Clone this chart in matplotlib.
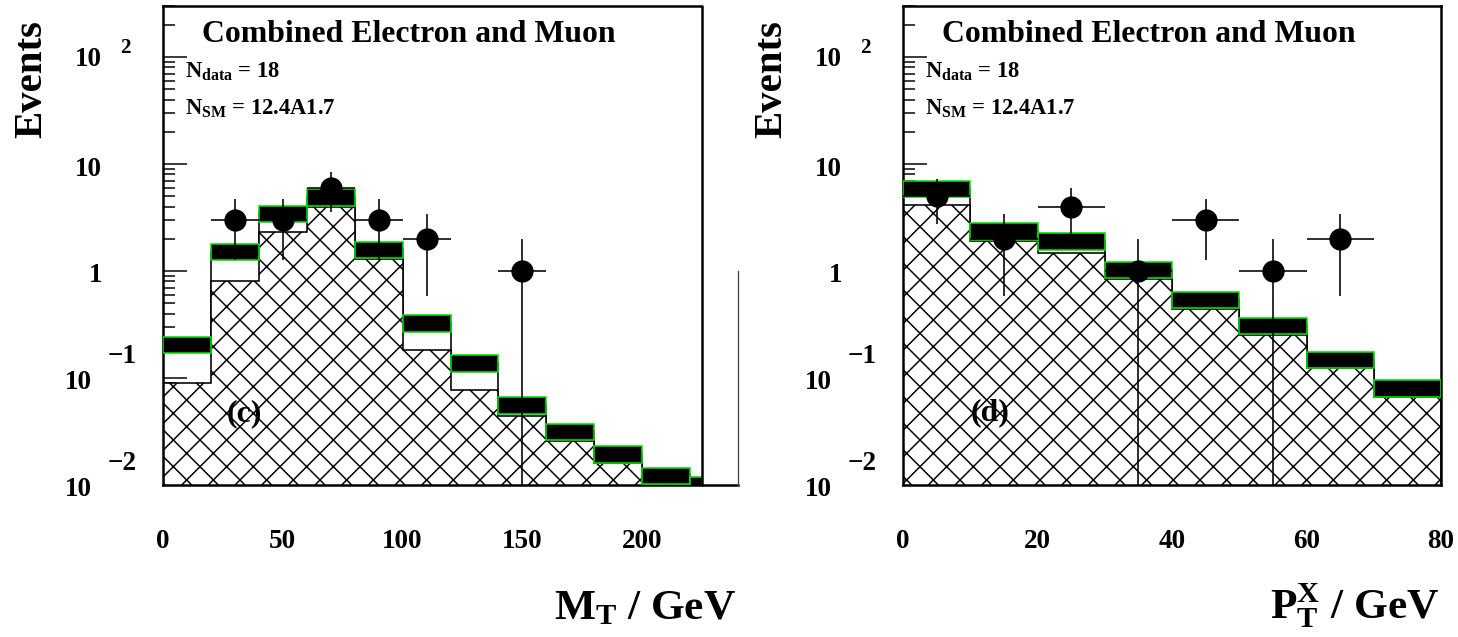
import numpy as np
import matplotlib
matplotlib.use("Agg")
import matplotlib.pyplot as plt
from matplotlib.transforms import ScaledTranslation
from matplotlib.ticker import FixedLocator, LogLocator, NullFormatter

DPI = 160

# M_T distribution, 20 GeV bins (the last one is cut by the frame at 225)
mt_edges = [0, 20, 40, 60, 80, 100, 120, 140, 160, 180, 200, 220, 225]
mt_sm = [0.206, 1.53, 3.46, 4.95, 1.60, 0.328, 0.139, 0.056, 0.032, 0.0196, 0.0123, 0.0102]
mt_sm_err = [0.035, 0.26, 0.59, 0.90, 0.28, 0.060, 0.025, 0.010, 0.0054, 0.0035, 0.0021, 0.0017]
mt_main_bkg = [0.090, 0.81, 2.31, 4.0, 1.3, 0.183, 0.077, 0.044, 0.026, 0.016, 0.009, 0.008]
mt_data_x = [30, 50, 70, 90, 110, 150]
mt_data_n = [3, 3, 6, 3, 2, 1]

# P_T^X distribution, 10 GeV bins
ptx_edges = [0, 10, 20, 30, 40, 50, 60, 70, 80]
ptx_sm = [5.93, 2.38, 1.92, 1.04, 0.544, 0.311, 0.150, 0.081]
ptx_sm_err = [1.0, 0.43, 0.35, 0.18, 0.093, 0.053, 0.026, 0.015]
ptx_main_bkg = [4.14, 1.9, 1.47, 0.85, 0.44, 0.255, 0.123, 0.066]
ptx_data_x = [5, 15, 25, 35, 45, 55, 65]
ptx_data_n = [5, 2, 4, 1, 3, 1, 2]

n_data = 18
n_sm_text = "12.4A1.7"


def px(v):
    # pixel size -> points at the figure dpi
    return v * 72.0 / DPI


plt.rcParams['font.family'] = ['Liberation Serif', 'DejaVu Serif']
plt.rcParams['font.weight'] = 'bold'
plt.rcParams['mathtext.fontset'] = 'custom'
plt.rcParams['mathtext.rm'] = 'Liberation Serif:bold'
plt.rcParams['mathtext.it'] = 'Liberation Serif:bold'
plt.rcParams['mathtext.bf'] = 'Liberation Serif:bold'
plt.rcParams['hatch.linewidth'] = px(1.5)

fig = plt.figure(figsize=(1458 / DPI, 637 / DPI), dpi=DPI)
fig.patch.set_facecolor('white')


def shift(dx, dy):
    return ScaledTranslation(dx / DPI, dy / DPI, fig.dpi_scale_trans)


def draw_hist(ax, edges, sm, sm_err, main_bkg, data_x, data_n):
    edges = np.asarray(edges, float)
    sm = np.asarray(sm)
    sm_err = np.asarray(sm_err)
    # total SM (white part on top) and the dominant background (cross-hatched)
    ax.stairs(sm, edges, baseline=1e-6, fill=True, facecolor='white',
              edgecolor='black', lw=px(1.6), zorder=1)
    ax.stairs(main_bkg, edges, baseline=1e-6, fill=True, facecolor='white',
              edgecolor='black', hatch='xx', lw=px(1.6), zorder=2)
    # SM uncertainty band
    widths = np.diff(edges)
    ax.bar(edges[:-1], 2 * sm_err, width=widths, bottom=sm - sm_err, align='edge',
           color='black', edgecolor='#00e000', lw=px(1.6), zorder=3)
    # data with sqrt(N) errors
    n = np.asarray(data_n, float)
    err = np.sqrt(n)
    lo = np.minimum(err, n - 1e-5)
    half = np.interp(data_x, edges[:-1] + widths / 2, widths / 2)
    ax.errorbar(data_x, n, yerr=[lo, err], xerr=half, fmt='o', color='black',
                ms=px(20), elinewidth=px(1.6), capsize=0, zorder=4)


def style_axes(ax, major_x, minor_x):
    ax.set_yscale('log')
    ax.set_ylim(0.01, 300)
    ax.yaxis.set_major_locator(LogLocator(base=10, numticks=10))
    ax.yaxis.set_minor_locator(LogLocator(base=10, subs=range(2, 10), numticks=10))
    ax.xaxis.set_major_locator(FixedLocator(major_x))
    ax.xaxis.set_minor_locator(FixedLocator(minor_x))
    for axis in (ax.xaxis, ax.yaxis):
        axis.set_major_formatter(NullFormatter())
        axis.set_minor_formatter(NullFormatter())
    ax.tick_params(which='both', direction='in', width=px(1.5), color='black',
                   top=False, right=False)
    ax.tick_params(which='major', length=px(24))
    ax.tick_params(which='minor', length=px(12))
    for sp in ax.spines.values():
        sp.set_linewidth(px(2.5))

    # ROOT style exponent labels
    tr = ax.get_yaxis_transform()
    kw = dict(fontsize=12.2, va='center_baseline')
    ax.text(0, 100, '10', transform=tr + shift(-61, 1), ha='right', **kw)
    ax.text(0, 100, '2', transform=tr + shift(-43, 12), ha='left',
            fontsize=9.5, va='center_baseline')
    ax.text(0, 10, '10', transform=tr + shift(-61, -2), ha='right', **kw)
    ax.text(0, 1, '1', transform=tr + shift(-61, -1), ha='right', **kw)
    for v, e in ((0.1, '\u22121'), (0.01, '\u22122')):
        ax.text(0, v, '10', transform=tr + shift(-71, -1), ha='right', **kw)
        ax.text(0, v, e, transform=tr + shift(-55, 25), ha='left', **kw)

    ax.text(0, 1, 'Events', transform=ax.transAxes + shift(-131, -73),
            rotation=90, ha='center', va='center', fontsize=18.4)
    ax.text(0, 1, 'Combined Electron and Muon', transform=ax.transAxes + shift(39, -36),
            ha='left', va='baseline', fontsize=14.3)
    ax.text(0, 1, r'$\mathrm{N_{data}}$ = %d' % n_data, transform=ax.transAxes + shift(22, -72),
            ha='left', va='baseline', fontsize=10.2)
    ax.text(0, 1, r'$\mathrm{N_{SM}}$ = ' + n_sm_text, transform=ax.transAxes + shift(22, -109),
            ha='left', va='baseline', fontsize=10.2)


def x_labels(ax, values):
    tr = ax.get_xaxis_transform()
    for v in values:
        ax.text(v, 0, str(v), transform=tr + shift(0, -54), ha='center',
                va='center_baseline', fontsize=12.2)


def x_title(ax, s):
    ax.text(1, 0, s, transform=ax.transAxes + shift(-2, -134),
            ha='right', va='baseline', fontsize=19.5)


# left panel: M_T
ax1 = fig.add_axes([163 / 1458, 152 / 637, 575 / 1458, 479 / 637])
ax1.set_xlim(0, 240)
draw_hist(ax1, mt_edges, mt_sm, mt_sm_err, mt_main_bkg, mt_data_x, mt_data_n)
style_axes(ax1, [50, 100, 150, 200],
           [v for v in range(10, 230, 10) if v % 50])
ax1.spines['top'].set_visible(False)
ax1.spines['right'].set_visible(False)
xt = ax1.get_xaxis_transform()
ax1.plot([0, 225, 225], [1, 1, 0], transform=xt, color='black', lw=px(2.5),
         clip_on=False, zorder=6)
ax1.plot([240, 240], [1, 0.01], color='#444444', lw=px(1.3), clip_on=False, zorder=6)
x_labels(ax1, [0, 50, 100, 150, 200])
ax1.text(34, 0.046, '(c)', ha='center', va='center', fontsize=14.3)
x_title(ax1, r'$\mathrm{M_T}$ / GeV')

# right panel: P_T^X
ax2 = fig.add_axes([903 / 1458, 152 / 637, 538 / 1458, 479 / 637])
ax2.set_xlim(0, 80)
draw_hist(ax2, ptx_edges, ptx_sm, ptx_sm_err, ptx_main_bkg, ptx_data_x, ptx_data_n)
style_axes(ax2, [20, 40, 60], [v for v in range(5, 80, 5) if v % 20])
x_labels(ax2, [0, 20, 40, 60, 80])
ax2.text(13, 0.047, '(d)', ha='center', va='center', fontsize=14.3)
x_title(ax2, r'$\mathrm{P_T^X}$ / GeV')

fig.savefig('out.png', dpi=DPI)
